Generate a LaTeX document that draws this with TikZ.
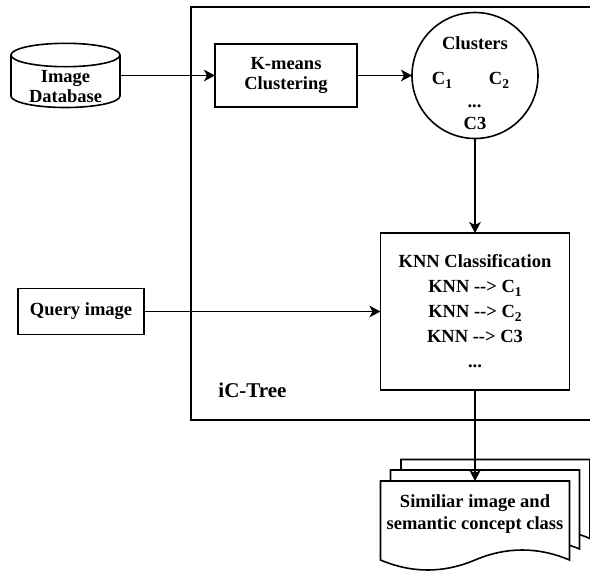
\documentclass[tikz,border=0pt]{standalone}
\usepackage{fontspec}
\setmainfont{Liberation Serif}
\usetikzlibrary{arrows.meta}
\newcommand{\lowsub}[1]{\raisebox{-0.45ex}{\fontsize{13.5}{13.5}\selectfont #1}}
\newcommand{\docshape}[2]{%
  \draw[shift={(#1,#2)}, fill=white] (0,0) -- (189,0) -- (189,79)
    .. controls (157.5,65.67) and (126,65.67) .. (94.5,79)
    .. controls (63,92.33) and (31.5,92.33) .. (0,79) -- cycle;}
\begin{document}
\begin{tikzpicture}[x=1pt,y=-1pt,
  line width=1.6pt,
  every node/.style={font=\fontsize{18.5}{21}\selectfont\bfseries, inner sep=0pt, outer sep=0pt},
  boxnode/.style={draw, fill=white},
  arr/.style={-{Stealth[length=11pt,width=11.5pt,inset=3pt]}},
]
\useasboundingbox (0,0) rectangle (590,571);

% container
\node[draw, minimum width=420pt, minimum height=413pt, anchor=north west] (tree) at (191,7) {};
\node[font=\fontsize{21}{21}\selectfont\bfseries] (treelabel) at (252.5,390) {iC-Tree};

% database cylinder
\node[minimum width=109pt, minimum height=64pt] (db) at (65.5,75.5) {};
\draw[fill=white] (11,55) -- (11,96)
  arc[start angle=180, end angle=0, x radius=54.5, y radius=11.5] -- (120,55);
\draw (65.5,55) ellipse [x radius=54.5, y radius=11.7];
\node[align=center, font=\fontsize{18.5}{20.5}\selectfont\bfseries] (dbtext) at (65.5,86.5) {Image\\Database};

% k-means
\node[boxnode, minimum width=142pt, minimum height=63pt, align=center,
      font=\fontsize{18.5}{20.5}\selectfont\bfseries] (kmeans) at (286,75.5) {K-means\\Clustering};

% clusters circle
\node[draw, circle, minimum size=126pt] (clusters) at (475,75.5) {};
\node[anchor=base] (clabel) at (475,49.5) {Clusters};
\node[anchor=base] (c1) at (442,84.5) {C\lowsub{1}};
\node[anchor=base] (c2) at (499,84.5) {C\lowsub{2}};
\node[anchor=base] (cdots) at (474.5,107) {...};
\node[anchor=base] (c3) at (475,129.5) {C3};

% query
\node[boxnode, minimum width=126pt, minimum height=46pt] (query) at (81,311.5) {Query image};

% KNN
\node[boxnode, minimum width=189pt, minimum height=157pt, align=center,
      font=\fontsize{18.5}{25}\selectfont\bfseries] (knn) at (475,311.5)
  {KNN Classification\\KNN -{}-> C\lowsub{1}\\KNN -{}-> C\lowsub{2}\\KNN -{}-> C3\\...};

% documents
\docshape{401}{459.5}
\docshape{390.5}{470}
\docshape{380.5}{481}
\node[minimum width=189pt, minimum height=79pt, anchor=north west] (doc) at (380.5,481) {};
\node[align=center, font=\fontsize{18.5}{22}\selectfont\bfseries] (doctext) at (475,514)
  {Similiar image and\\semantic concept class};

% connectors
\draw[arr] (db.east) -- (kmeans.west);
\draw[arr] (kmeans.east) -- (clusters.west);
\draw[arr] (clusters.south) -- (knn.north);
\draw[arr] (query.east) -- (knn.west);
\draw[arr] (knn.south) -- (doc.north);
\end{tikzpicture}
\end{document}
